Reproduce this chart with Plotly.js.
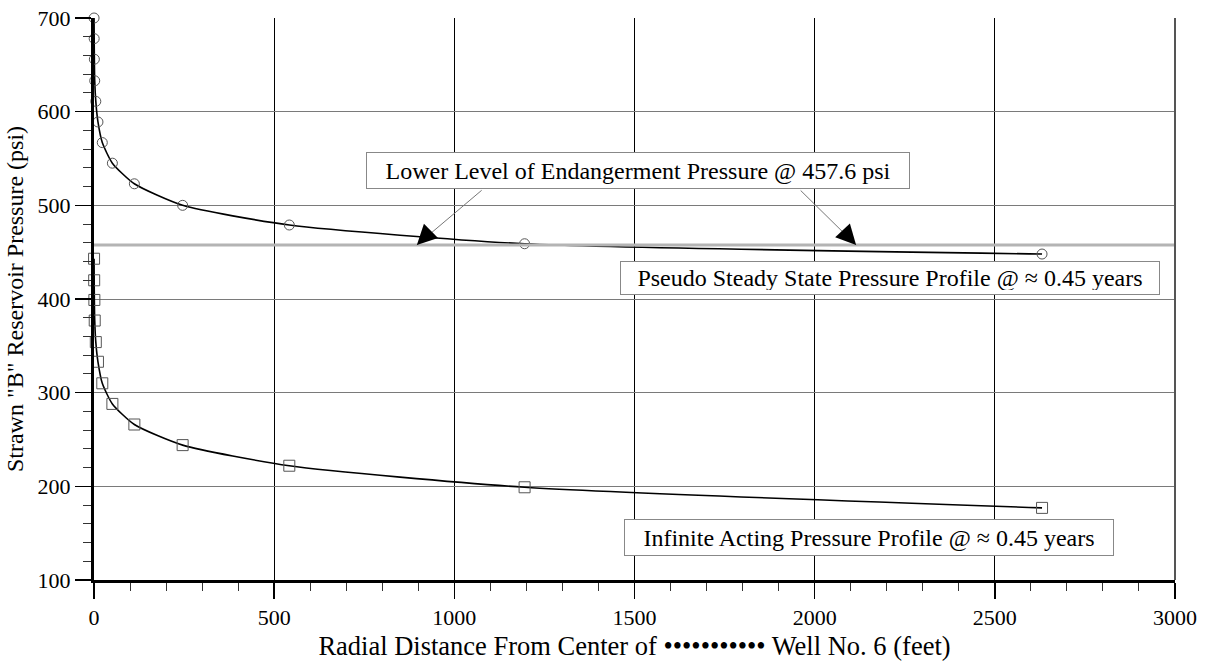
<!DOCTYPE html>
<html>
<head>
<meta charset="utf-8">
<script src="https://cdn.plot.ly/plotly-3.0.1.min.js"></script>
<style>html,body{margin:0;padding:0;background:#fff;}#chart{width:1207px;height:661px;}</style>
</head>
<body>
<div id="chart"></div>
<script>
// Radial distance (feet) of each computed point
const radius = [0.2, 0.5, 1, 2, 5, 11, 23, 51, 112, 246, 542, 1195, 2631];
// Pseudo steady state pressure profile (psi)
const pseudoSteady = [700, 678, 656, 633, 611, 589, 567, 545, 523, 500, 479, 459, 448];
// Infinite acting pressure profile (psi)
const infiniteActing = [443, 420, 399, 377, 354, 333, 310, 288, 266, 244, 222, 199, 177];
// Lower level of endangerment pressure (psi)
const endangerLevel = 457.6;
const endangerX = [0, 3000];
const xTicks = [0, 500, 1000, 1500, 2000, 2500, 3000];
const yTicks = [100, 200, 300, 400, 500, 600, 700];

const FONT = 'Liberation Serif';

const traces = [
  {
    x: radius, y: pseudoSteady, mode: 'lines+markers', type: 'scatter',
    line: {color: '#000', width: 1.6, shape: 'spline', smoothing: 0.6},
    marker: {symbol: 'circle-open', size: 10, color: '#555', line: {width: 1, color: '#555'}},
    hoverinfo: 'x+y', showlegend: false, cliponaxis: false
  },
  {
    x: radius, y: infiniteActing, mode: 'lines+markers', type: 'scatter',
    line: {color: '#000', width: 1.6, shape: 'spline', smoothing: 0.6},
    marker: {symbol: 'square-open', size: 11, color: '#555', line: {width: 1, color: '#555'}},
    hoverinfo: 'x+y', showlegend: false, cliponaxis: false
  },
  {
    x: endangerX, y: [endangerLevel, endangerLevel], mode: 'lines', type: 'scatter',
    line: {color: '#b4b4b4', width: 3},
    hoverinfo: 'skip', showlegend: false
  }
];

const boxFont = {family: FONT, size: 24, color: '#000'};

const annotations = [
  {x: 1510, y: 536.7, xref: 'x', yref: 'y', text: 'Lower Level of Endangerment Pressure @ 457.6 psi',
   showarrow: false, font: boxFont, bgcolor: '#fff', bordercolor: '#888', borderwidth: 1, borderpad: 4,
   width: 534, height: 27},
  {x: 2209, y: 422.4, xref: 'x', yref: 'y', text: 'Pseudo Steady State Pressure Profile @ \u2248 0.45 years',
   showarrow: false, font: boxFont, bgcolor: '#fff', bordercolor: '#888', borderwidth: 1, borderpad: 4,
   width: 530, height: 24},
  {x: 2151, y: 145.9, xref: 'x', yref: 'y', text: 'Infinite Acting Pressure Profile @ \u2248 0.45 years',
   showarrow: false, font: boxFont, bgcolor: '#fff', bordercolor: '#888', borderwidth: 1, borderpad: 4,
   width: 480, height: 27},
  // arrow shafts (thin gray)
  {x: 896, y: endangerLevel, xref: 'x', yref: 'y', ax: 1080, ay: 517.4, axref: 'x', ayref: 'y',
   text: '', showarrow: true, arrowhead: 0, arrowwidth: 1, arrowcolor: '#777'},
  {x: 2115, y: endangerLevel, xref: 'x', yref: 'y', ax: 1957, ay: 517.4, axref: 'x', ayref: 'y',
   text: '', showarrow: true, arrowhead: 0, arrowwidth: 1, arrowcolor: '#777'},
  // arrow heads (black)
  {x: 896, y: endangerLevel, xref: 'x', yref: 'y', ax: 13, ay: -13,
   text: '', showarrow: true, arrowhead: 2, arrowsize: 4, arrowwidth: 1, arrowcolor: '#000'},
  {x: 2115, y: endangerLevel, xref: 'x', yref: 'y', ax: -12, ay: -13,
   text: '', showarrow: true, arrowhead: 2, arrowsize: 4, arrowwidth: 1, arrowcolor: '#000'}
];

const layout = {
  width: 1207, height: 661,
  margin: {l: 94, r: 32, t: 18, b: 81},
  paper_bgcolor: '#fff', plot_bgcolor: '#fff',
  font: {family: FONT, size: 24, color: '#000'},
  showlegend: false,
  xaxis: {
    range: [0, 3000], tickvals: xTicks, ticktext: xTicks.map(String),
    ticks: 'outside', ticklen: 16, tickwidth: 1.5, tickcolor: '#000',
    showgrid: true, gridcolor: '#000', gridwidth: 1.3,
    showline: true, linecolor: '#000', linewidth: 3, zeroline: false,
    minor: {dtick: 100, ticks: 'outside', ticklen: 8, tickcolor: '#333', tickwidth: 1, showgrid: false},
    tickfont: {family: FONT, size: 22, color: '#000'},
    title: {text: 'Radial Distance From Center of \u2022\u2022\u2022\u2022\u2022\u2022\u2022\u2022\u2022\u2022\u2022 Well No. 6 (feet)',
            font: {family: FONT, size: 26.5, color: '#000'}, standoff: 8}
  },
  yaxis: {
    range: [100, 700], tickvals: yTicks, ticktext: yTicks.map(String),
    ticks: 'outside', ticklen: 16, tickwidth: 1.5, tickcolor: '#000',
    showgrid: true, gridcolor: '#7a7a7a', gridwidth: 1,
    showline: true, linecolor: '#000', linewidth: 3, zeroline: false,
    minor: {dtick: 20, ticks: 'outside', ticklen: 8, tickcolor: '#333', tickwidth: 1, showgrid: false},
    tickfont: {family: FONT, size: 22, color: '#000'},
    title: {text: 'Strawn "B" Reservoir Pressure (psi)', font: {family: FONT, size: 24, color: '#000'}, standoff: 8}
  },
  shapes: [
    {type: 'line', xref: 'paper', yref: 'paper', x0: 1, x1: 1, y0: 0, y1: 1, line: {color: '#555', width: 2}, layer: 'above'}
  ],
  annotations: annotations
};

Plotly.newPlot('chart', traces, layout, {displayModeBar: false, staticPlot: true});
</script>
</body>
</html>
